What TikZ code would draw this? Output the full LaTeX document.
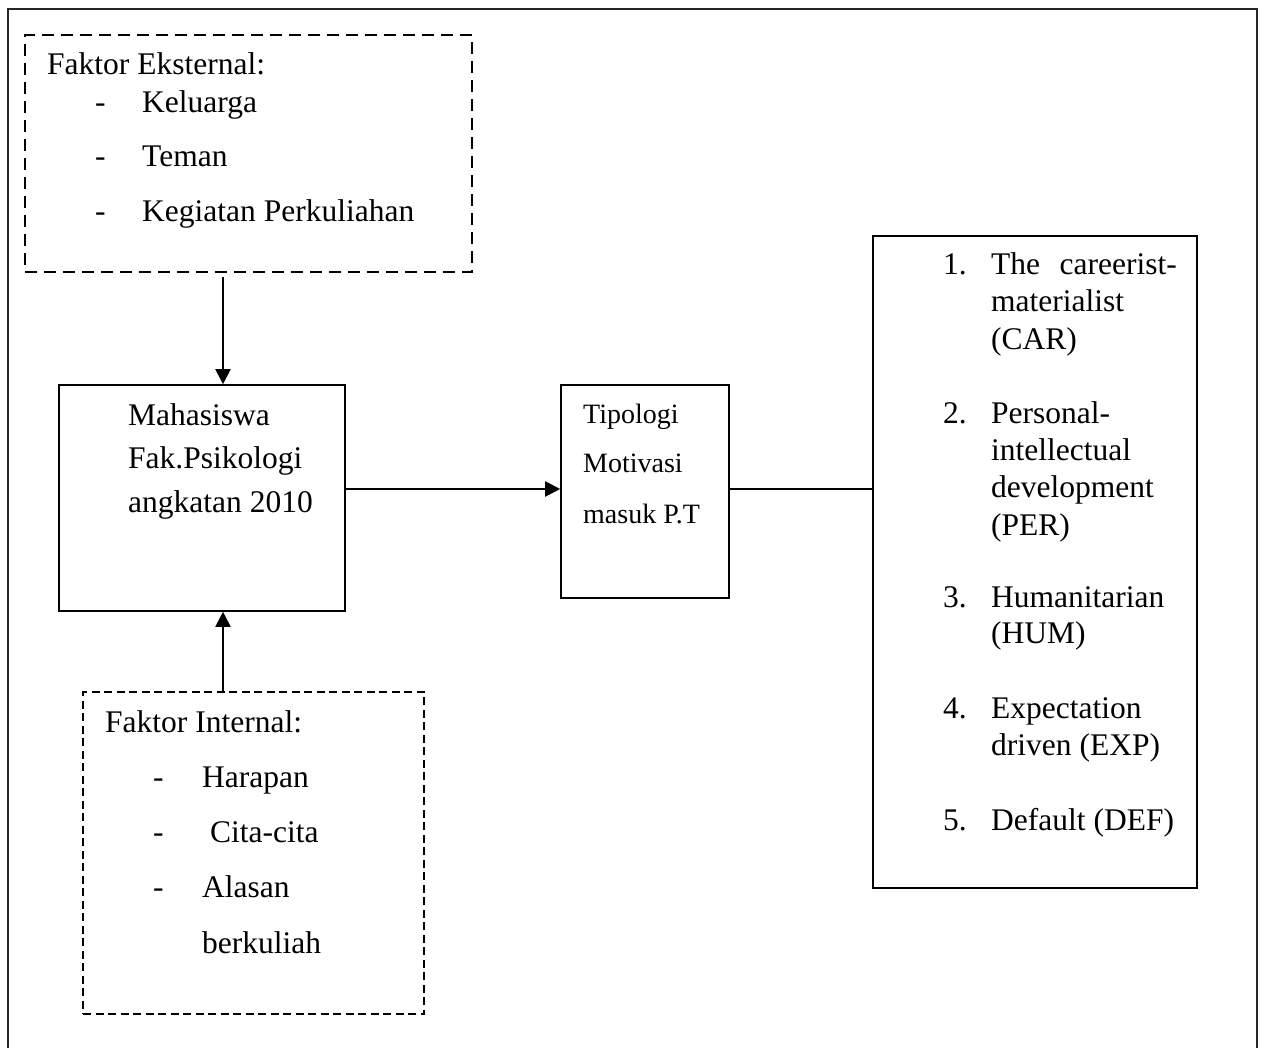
\documentclass[tikz,border=0pt]{standalone}
\usepackage{fontspec}
\setmainfont{Liberation Serif}
\usetikzlibrary{arrows.meta}
\begin{document}
\begin{tikzpicture}[x=1pt,y=-1pt,
  box/.style={draw=black,line width=1.6pt,rectangle,inner sep=0pt},
  dashbox/.style={draw=black,line width=1.6pt,rectangle,inner sep=0pt,dash pattern=on 12pt off 7pt},
  dashboxb/.style={draw=black,line width=1.6pt,rectangle,inner sep=0pt,dash pattern=on 8pt off 4.5pt},
  arr/.style={line width=2pt,-{Triangle[length=15pt,width=15pt]}},
  con/.style={line width=1.6pt},
  txt/.style={anchor=base west,inner sep=0pt,font=\fontsize{31.5}{37}\selectfont},
  txts/.style={anchor=base west,inner sep=0pt,font=\fontsize{28}{34}\selectfont}]
\useasboundingbox (0,0) rectangle (1263,1048);
% outer frame (open at bottom, runs off the page)
\draw[line width=2.6pt,draw=black!85] (8,1070) -- (8,9) -- (1257,9) -- (1257,1070);

% boxes
\node[dashbox,minimum width=447pt,minimum height=237pt] (ext) at (248.5,153.5) {};
\node[box,minimum width=286pt,minimum height=226pt] (mah) at (202,498) {};
\node[dashboxb,minimum width=341pt,minimum height=322pt] (int) at (253.5,853) {};
\node[box,minimum width=168pt,minimum height=213pt] (tip) at (645,491.5) {};
\node[box,minimum width=324pt,minimum height=652pt] (typ) at (1035,562) {};

% connectors
\coordinate (a1) at (223,277);
\coordinate (hy) at (0,489);
\draw[arr] (a1) -- (a1 |- mah.north);
\draw[arr] (a1 |- int.north) -- (a1 |- mah.south);
\draw[arr] (mah.east |- hy) -- (tip.west |- hy);
\draw[con] (tip.east |- hy) -- (typ.west |- hy);

% external factors
\node[txt] (e0) at (47,75) {Faktor Eksternal:};
\node[txt] (e1d) at (95,113) {-};
\node[txt] (e1) at (142,113) {Keluarga};
\node[txt] (e2d) at (95,167) {-};
\node[txt] (e2) at (142,167) {Teman};
\node[txt] (e3d) at (95,222) {-};
\node[txt] (e3) at (142,222) {Kegiatan Perkuliahan};

% students
\node[txt] (m1) at (128,425) {Mahasiswa};
\node[txt] (m2) at (128,468) {Fak.Psikologi};
\node[txt] (m3) at (128,512) {angkatan 2010};

% internal factors
\node[txt] (i0) at (105,732) {Faktor Internal:};
\node[txt] (i1d) at (153,787) {-};
\node[txt] (i1) at (202,787) {Harapan};
\node[txt] (i2d) at (153,842) {-};
\node[txt] (i2) at (210,842) {Cita-cita};
\node[txt] (i3d) at (153,897) {-};
\node[txt] (i3) at (202,897) {Alasan};
\node[txt] (i4) at (202,953) {berkuliah};

% typology
\node[txts] (t1) at (583,423) {Tipologi};
\node[txts] (t2) at (583,472) {Motivasi};
\node[txts] (t3) at (583,523) {masuk P.T};

% types
\node[txt] (n1) at (943,275) {1.};
\node[txt] (r1a) at (991,275) {The};
\node[txt,anchor=base east] (r1b) at (1177,275) {careerist-};
\node[txt] (r1c) at (991,312) {materialist};
\node[txt] (r1d) at (991,350) {(CAR)};
\node[txt] (n2) at (943,423) {2.};
\node[txt] (r2a) at (991,423) {Personal-};
\node[txt] (r2b) at (991,460) {intellectual};
\node[txt] (r2c) at (991,497) {development};
\node[txt] (r2d) at (991,535) {(PER)};
\node[txt] (n3) at (943,607) {3.};
\node[txt] (r3a) at (991,607) {Humanitarian};
\node[txt] (r3b) at (991,643) {(HUM)};
\node[txt] (n4) at (943,718) {4.};
\node[txt] (r4a) at (991,718) {Expectation};
\node[txt] (r4b) at (991,755) {driven (EXP)};
\node[txt] (n5) at (943,830) {5.};
\node[txt] (r5a) at (991,830) {Default (DEF)};
\end{tikzpicture}
\end{document}
